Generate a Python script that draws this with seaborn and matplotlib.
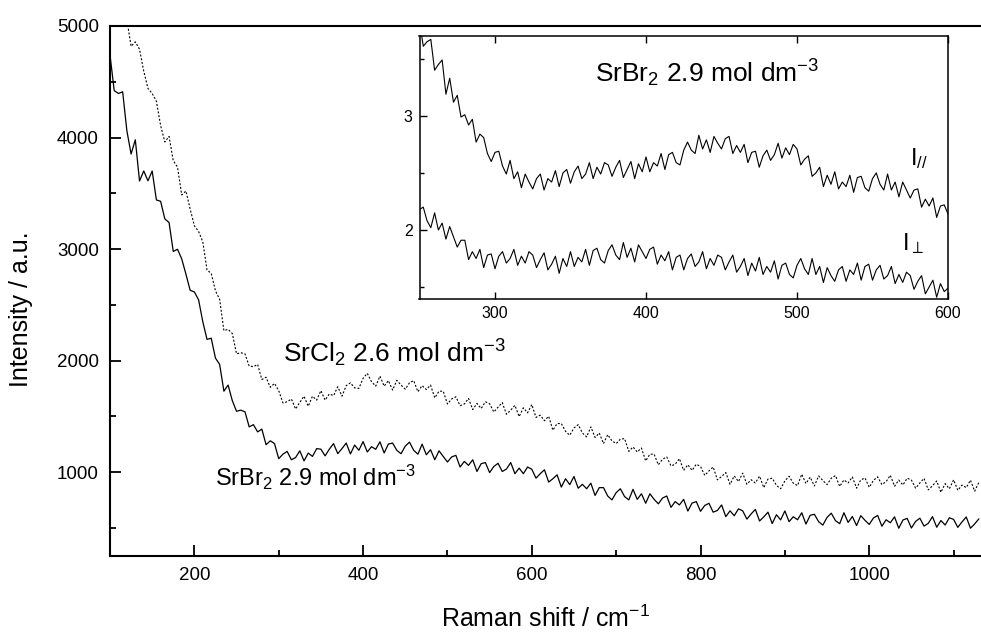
import numpy as np
import pandas as pd
import matplotlib
matplotlib.use("Agg")
import matplotlib.pyplot as plt
import seaborn as sns
from matplotlib.ticker import MultipleLocator, FixedLocator

# ---------------- data ----------------
shift_main = np.arange(100, 1131, 5)          # Raman shift / cm-1 (main plot)

srbr2_main = [
    4740, 4420, 4395, 4410, 4060, 3852, 3980, 3610, 3700, 3612,
    3700, 3440, 3428, 3270, 3238, 2978, 2998, 2912, 2775, 2630,
    2615, 2545, 2348, 2190, 2200, 2022, 1965, 1725, 1780, 1640,
    1545, 1555, 1540, 1405, 1425, 1360, 1385, 1245, 1280, 1255,
    1120, 1160, 1185, 1110, 1130, 1190, 1100, 1170, 1140, 1210,
    1205, 1145, 1205, 1255, 1165, 1210, 1260, 1162, 1242, 1195,
    1273, 1180, 1227, 1204, 1271, 1171, 1251, 1260, 1195, 1164,
    1232, 1268, 1195, 1160, 1250, 1155, 1200, 1110, 1190, 1140,
    1090, 1135, 1150, 1045, 1095, 1060, 1110, 1005, 1075, 1085,
    995, 1050, 1078, 1005, 1027, 1085, 985, 1035, 985, 1045,
    1025, 945, 985, 1020, 910, 940, 975, 865, 940, 887,
    960, 855, 890, 850, 900, 790, 860, 860, 785, 750,
    815, 850, 780, 750, 845, 755, 805, 720, 805, 755,
    715, 767, 785, 683, 735, 705, 755, 650, 722, 735,
    648, 700, 720, 640, 655, 705, 600, 652, 608, 670,
    652, 578, 624, 665, 561, 598, 640, 538, 617, 571,
    651, 555, 599, 572, 635, 533, 612, 621, 555, 524,
    593, 631, 564, 537, 635, 548, 601, 520, 609, 567,
    530, 588, 611, 514, 572, 545, 598, 496, 570, 584,
    498, 557, 586, 515, 540, 600, 505, 565, 525, 590,
    575, 504, 553, 597, 496, 535, 580,
]

srcl2_main = [
    5380, 5160, 5138, 5030, 5058, 4818, 4858, 4792, 4595, 4440,
    4395, 4325, 4108, 3960, 4010, 3792, 3735, 3485, 3520, 3360,
    3208, 3158, 3065, 2812, 2782, 2625, 2548, 2268, 2280, 2242,
    2060, 2070, 2060, 1950, 1945, 1965, 1830, 1850, 1760, 1795,
    1730, 1620, 1630, 1655, 1565, 1625, 1680, 1590, 1680, 1645,
    1730, 1645, 1700, 1685, 1765, 1680, 1775, 1800, 1755, 1750,
    1840, 1885, 1810, 1770, 1860, 1770, 1820, 1735, 1822, 1780,
    1743, 1800, 1820, 1720, 1775, 1740, 1780, 1665, 1725, 1725,
    1610, 1655, 1675, 1595, 1610, 1660, 1560, 1615, 1570, 1630,
    1612, 1538, 1582, 1623, 1518, 1555, 1598, 1497, 1576, 1531,
    1605, 1490, 1510, 1460, 1500, 1375, 1435, 1435, 1365, 1330,
    1395, 1425, 1350, 1315, 1405, 1310, 1350, 1255, 1335, 1280,
    1255, 1295, 1300, 1185, 1225, 1180, 1215, 1100, 1160, 1160,
    1065, 1115, 1135, 1055, 1070, 1120, 1015, 1065, 1015, 1070,
    1050, 970, 1010, 1045, 930, 960, 995, 890, 965, 915,
    990, 890, 931, 902, 963, 860, 937, 945, 880, 850,
    920, 962, 900, 878, 980, 897, 954, 875, 965, 924,
    887, 945, 968, 871, 929, 902, 956, 855, 930, 946,
    863, 925, 957, 888, 913, 971, 872, 928, 884, 945,
    928, 855, 902, 943, 840, 877, 920, 818, 896, 850,
    930, 836, 883, 860, 927, 828, 909,
]

shift_inset = np.arange(250, 600.1, 2.5)      # Raman shift / cm-1 (inset)

i_par = [
    3.83, 3.61, 3.65, 3.67, 3.40, 3.45, 3.49, 3.19, 3.33, 3.12,
    3.18, 2.99, 3.01, 2.92, 2.97, 2.77, 2.84, 2.81, 2.67, 2.60,
    2.68, 2.69, 2.56, 2.49, 2.61, 2.45, 2.51, 2.37, 2.49, 2.42,
    2.36, 2.45, 2.49, 2.35, 2.45, 2.42, 2.52, 2.38, 2.50, 2.53,
    2.41, 2.51, 2.56, 2.45, 2.49, 2.59, 2.45, 2.55, 2.49, 2.59,
    2.57, 2.47, 2.55, 2.61, 2.46, 2.53, 2.60, 2.45, 2.58, 2.51,
    2.64, 2.51, 2.59, 2.56, 2.67, 2.53, 2.66, 2.68, 2.59, 2.57,
    2.70, 2.77, 2.70, 2.67, 2.83, 2.71, 2.79, 2.68, 2.82, 2.76,
    2.71, 2.80, 2.82, 2.67, 2.74, 2.68, 2.75, 2.59, 2.68, 2.69,
    2.55, 2.65, 2.70, 2.61, 2.66, 2.76, 2.63, 2.72, 2.66, 2.75,
    2.71, 2.57, 2.62, 2.65, 2.47, 2.50, 2.55, 2.38, 2.48, 2.40,
    2.51, 2.36, 2.42, 2.38, 2.48, 2.33, 2.46, 2.47, 2.37, 2.34,
    2.45, 2.50, 2.40, 2.35, 2.49, 2.35, 2.42, 2.29, 2.42, 2.35,
    2.28, 2.35, 2.36, 2.20, 2.27, 2.21, 2.28, 2.11, 2.21, 2.22,
    2.14,
]

i_perp = [
    2.18, 2.20, 2.08, 2.02, 2.15, 2.00, 2.06, 1.92, 2.03, 1.94,
    1.85, 1.91, 1.91, 1.74, 1.81, 1.75, 1.83, 1.67, 1.78, 1.79,
    1.66, 1.77, 1.81, 1.71, 1.75, 1.83, 1.69, 1.77, 1.71, 1.81,
    1.78, 1.67, 1.74, 1.80, 1.65, 1.70, 1.77, 1.62, 1.75, 1.68,
    1.81, 1.68, 1.76, 1.72, 1.83, 1.69, 1.82, 1.84, 1.74, 1.71,
    1.82, 1.87, 1.78, 1.74, 1.89, 1.76, 1.84, 1.72, 1.87, 1.81,
    1.75, 1.83, 1.85, 1.70, 1.78, 1.73, 1.81, 1.65, 1.76, 1.78,
    1.65, 1.75, 1.79, 1.68, 1.72, 1.81, 1.66, 1.75, 1.69, 1.78,
    1.76, 1.65, 1.72, 1.78, 1.63, 1.68, 1.75, 1.60, 1.71, 1.64,
    1.76, 1.61, 1.68, 1.63, 1.73, 1.57, 1.69, 1.71, 1.61, 1.58,
    1.69, 1.75, 1.66, 1.61, 1.75, 1.61, 1.68, 1.54, 1.67, 1.60,
    1.55, 1.65, 1.68, 1.55, 1.65, 1.61, 1.71, 1.56, 1.68, 1.70,
    1.56, 1.65, 1.69, 1.57, 1.60, 1.68, 1.53, 1.61, 1.54, 1.63,
    1.60, 1.48, 1.55, 1.60, 1.44, 1.50, 1.56, 1.41, 1.53, 1.46,
    1.49,
]

main_xticks = [200, 400, 600, 800, 1000]
main_yticks = [1000, 2000, 3000, 4000, 5000]
inset_xticks = [300, 400, 500, 600]
inset_yticks = [2, 3]

# ---------------- style ----------------
sns.set_style("ticks")
plt.rcParams["font.family"] = ["Liberation Sans", "DejaVu Sans"]
plt.rcParams["mathtext.fontset"] = "custom"
plt.rcParams["mathtext.rm"] = "Liberation Sans"
plt.rcParams["mathtext.it"] = "Liberation Sans:italic"
plt.rcParams["mathtext.bf"] = "Liberation Sans:bold"
plt.rcParams["mathtext.default"] = "regular"
for key in ["text.color", "axes.labelcolor", "xtick.color", "ytick.color", "axes.edgecolor"]:
    plt.rcParams[key] = "black"

df_main = pd.DataFrame({"shift": np.concatenate([shift_main, shift_main]),
                        "intensity": np.concatenate([srbr2_main, srcl2_main]),
                        "sample": ["SrBr2"] * len(shift_main) + ["SrCl2"] * len(shift_main)})
df_inset = pd.DataFrame({"shift": np.concatenate([shift_inset, shift_inset]),
                         "intensity": np.concatenate([i_par, i_perp]),
                         "pol": ["par"] * len(shift_inset) + ["perp"] * len(shift_inset)})

fig = plt.figure(figsize=(9.81, 6.40), dpi=100)
W, H = 981, 640
ax = fig.add_axes([110 / W, 1 - 556 / H, 1 - 110 / W, (556 - 26) / H])

sns.lineplot(data=df_main[df_main["sample"] == "SrBr2"], x="shift", y="intensity",
             ax=ax, color="black", linewidth=0.9, estimator=None, sort=False)
sns.lineplot(data=df_main[df_main["sample"] == "SrCl2"], x="shift", y="intensity",
             ax=ax, color="black", linewidth=0.8, estimator=None, sort=False,
             linestyle=(0, (1.8, 1.6)))

ax.set_xlim(100, 1132.5)
ax.set_ylim(247, 5000)
ax.xaxis.set_major_locator(FixedLocator(main_xticks))
ax.xaxis.set_minor_locator(MultipleLocator(100))
ax.yaxis.set_major_locator(FixedLocator(main_yticks))
ax.yaxis.set_minor_locator(MultipleLocator(500))
ax.tick_params(axis="both", which="major", direction="in", length=8, width=1.3,
               labelsize=13.5, pad=8, top=False, right=False)
ax.tick_params(axis="both", which="minor", direction="in", length=4.5, width=1.3,
               top=False, right=False)
for side in ["left", "bottom", "top"]:
    ax.spines[side].set_linewidth(1.5)
ax.spines["right"].set_visible(False)

ax.set_xlabel("Raman shift / cm$^{-1}$", fontsize=18)
ax.set_ylabel("Intensity / a.u.", fontsize=18)
ax.xaxis.set_label_coords(0.5, -0.094)
ax.yaxis.set_label_coords(-0.088, 0.466)

ax.text(305, 1987, "SrCl$_2$ 2.6 mol dm$^{-3}$", fontsize=19, ha="left", va="baseline")
ax.text(224, 874, "SrBr$_2$ 2.9 mol dm$^{-3}$", fontsize=17, ha="left", va="baseline")

# ---------------- inset ----------------
axin = fig.add_axes([419.5 / W, 1 - 299 / H, (948 - 419.5) / W, (299 - 36) / H])
axin.set_facecolor("white")
sns.lineplot(data=df_inset[df_inset["pol"] == "par"], x="shift", y="intensity",
             ax=axin, color="black", linewidth=0.8, estimator=None, sort=False)
sns.lineplot(data=df_inset[df_inset["pol"] == "perp"], x="shift", y="intensity",
             ax=axin, color="black", linewidth=0.8, estimator=None, sort=False)
axin.set_xlim(250, 600)
axin.set_ylim(1.395, 3.70)
axin.xaxis.set_major_locator(FixedLocator(inset_xticks))
axin.yaxis.set_major_locator(FixedLocator(inset_yticks))
axin.yaxis.set_minor_locator(MultipleLocator(0.5))
axin.tick_params(axis="both", which="major", direction="in", length=5, width=1.0,
                 labelsize=11.5, pad=5, top=True, right=False)
axin.tick_params(axis="y", which="minor", direction="in", length=3, width=1.0, right=False)
for s in axin.spines.values():
    s.set_linewidth(1.1)
axin.set_xlabel("")
axin.set_ylabel("")

axin.text(366, 3.29, "SrBr$_2$ 2.9 mol dm$^{-3}$", fontsize=19, ha="left", va="baseline")
axin.text(575, 2.57, r"I$_{//}$", fontsize=17, ha="left", va="baseline")
axin.text(569.5, 1.82, r"I$_{\perp}$", fontsize=17, ha="left", va="baseline")

fig.savefig("out.png", dpi=100)
